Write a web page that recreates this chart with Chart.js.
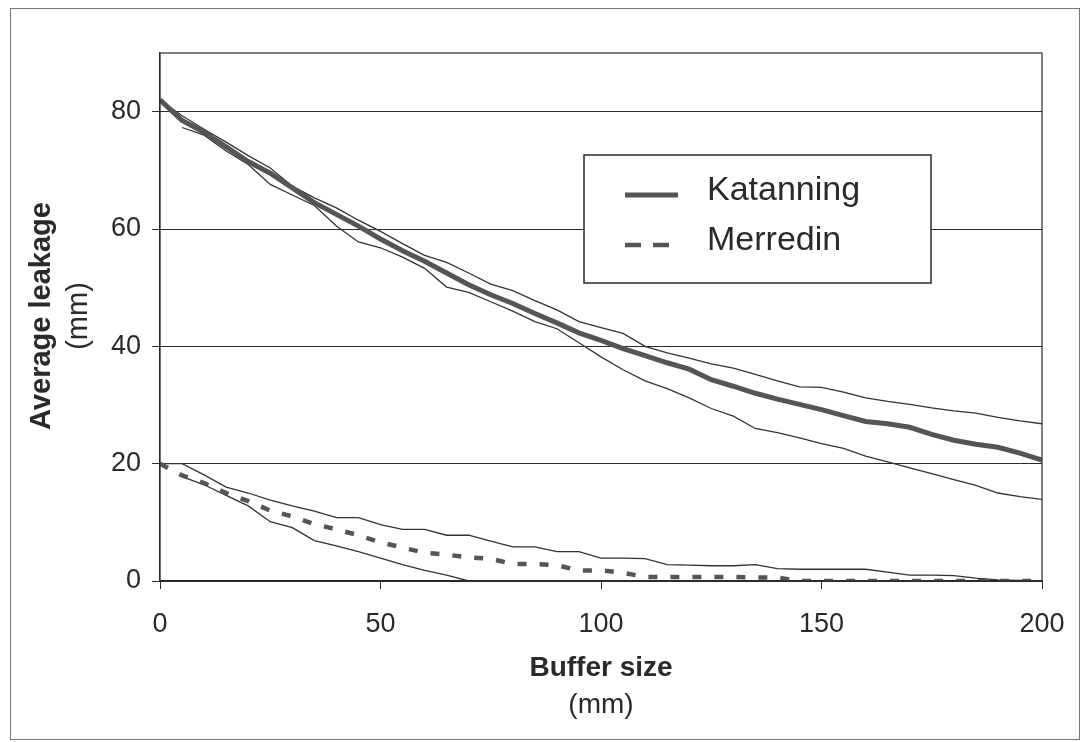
<!DOCTYPE html>
<html>
<head>
<meta charset="utf-8">
<script src="https://cdn.jsdelivr.net/npm/chart.js@4"></script>
<style>
  html, body { margin: 0; padding: 0; background: #fff; }
  #wrap { width: 1084px; height: 742px; }
</style>
</head>
<body>
<div id="wrap"><canvas id="leakage" width="1084" height="742"></canvas></div>
<script>
// buffer size (mm), read every 5 mm off the scan
const bufferSize = [0, 5, 10, 15, 20, 25, 30, 35, 40, 45, 50, 55, 60, 65, 70, 75, 80, 85, 90, 95, 100,
    105, 110, 115, 120, 125, 130, 135, 140, 145, 150, 155, 160, 165, 170, 175, 180, 185, 190, 195, 200];

// Katanning: mean and the two thin bound lines
const katanning = [82, 78.5, 76.5, 74, 71.5, 69.5, 67, 64.5, 62.5, 60.5, 58.3, 56.3, 54.5, 52.5, 50.5, 48.8, 47.3, 45.6, 44, 42.3, 41,
    39.6, 38.4, 37.2, 36.1, 34.3, 33.2, 32, 31, 30.1, 29.2, 28.2, 27.2, 26.8, 26.2, 25, 24, 23.3, 22.8, 21.8, 20.6];
const katanningHigh = [82, 79.3, 77, 74.8, 72.5, 70.4, 67.3, 65.3, 63.6, 61.5, 59.6, 57.5, 55.5, 54.3, 52.5, 50.6, 49.5, 47.8, 46.2, 44.2, 43.2,
    42.2, 40, 38.9, 38, 37, 36.3, 35.2, 34.1, 33.1, 33, 32.2, 31.2, 30.6, 30.1, 29.5, 29, 28.6, 27.9, 27.3, 26.8];
const katanningLow = [null, 77.3, 76, 73.3, 71, 67.6, 65.8, 64, 60.5, 57.8, 56.8, 55.2, 53.3, 50.1, 49.2, 47.6, 46, 44.2, 43, 40.6, 38.2,
    36, 34.1, 32.8, 31.2, 29.4, 28.1, 26, 25.3, 24.4, 23.4, 22.6, 21.3, 20.3, 19.3, 18.3, 17.3, 16.3, 15, 14.4, 13.9];

// Merredin
const merredin = [20, 18, 16.7, 15, 13.6, 12, 11, 9.7, 8.8, 7.8, 6.6, 5.7, 4.8, 4.5, 4, 3.8, 2.9, 2.9, 2.7, 1.8, 1.8,
    1.4, 0.7, 0.7, 0.7, 0.7, 0.7, 0.6, 0.6, 0, 0, 0, 0, 0, 0, 0, 0, 0, 0, 0, 0];
const merredinHigh = [20, 20, 18.1, 16, 15, 13.8, 12.8, 11.9, 10.8, 10.8, 9.6, 8.8, 8.8, 7.8, 7.8, 6.8, 5.8, 5.8, 5, 5, 3.9,
    3.9, 3.8, 2.8, 2.7, 2.6, 2.6, 2.8, 2.1, 2, 2, 2, 2, 1.5, 1, 1, 0.9, 0.5, 0.2, 0.1, 0];
const merredinLow = [null, 17.8, 16.4, 14.6, 12.8, 10.1, 9.1, 6.9, 6, 5, 3.9, 2.8, 1.8, 1, 0, 0, 0, 0, 0, 0, 0,
    0, 0, 0, 0, 0, 0, 0, 0, 0, 0, 0, 0, 0, 0, 0, 0, 0, 0, 0, 0];

const yTicks = [0, 20, 40, 60, 80];
const xTicks = [0, 50, 100, 150, 200];

const FONT = '"Liberation Sans", Arial, sans-serif';
const INK = '#2a2a2a';

const pts = arr => arr.map((v, i) => ({ x: bufferSize[i], y: v }));

// frame round the whole picture, box round the plot, axis titles, legend box
const decorations = {
    id: 'decorations',
    beforeDraw(chart) {
        const ctx = chart.ctx;
        ctx.save();
        ctx.fillStyle = '#fff';
        ctx.fillRect(0, 0, chart.width, chart.height);
        ctx.strokeStyle = '#777';
        ctx.lineWidth = 1;
        ctx.strokeRect(10.5, 8.5, 1069, 731);
        ctx.restore();
    },
    afterDraw(chart) {
        const ctx = chart.ctx;
        const a = chart.chartArea;
        ctx.save();
        ctx.strokeStyle = INK;
        ctx.lineWidth = 1.2;
        ctx.strokeRect(a.left, a.top, a.right - a.left, a.bottom - a.top);

        ctx.fillStyle = INK;
        ctx.textAlign = 'center';
        ctx.textBaseline = 'middle';
        const midX = (a.left + a.right) / 2;
        ctx.font = 'bold 28px ' + FONT;
        ctx.fillText('Buffer size', midX, 668);
        ctx.font = '28px ' + FONT;
        ctx.fillText('(mm)', midX, 705);

        ctx.save();
        ctx.translate(42, 316);
        ctx.rotate(-Math.PI / 2);
        ctx.font = 'bold 29px ' + FONT;
        ctx.fillText('Average leakage', 0, 0);
        ctx.restore();
        ctx.save();
        ctx.translate(79, 316);
        ctx.rotate(-Math.PI / 2);
        ctx.font = '29px ' + FONT;
        ctx.fillText('(mm)', 0, 0);
        ctx.restore();

        // legend
        ctx.fillStyle = '#fff';
        ctx.fillRect(584, 155, 347, 128);
        ctx.strokeStyle = INK;
        ctx.lineWidth = 1.5;
        ctx.strokeRect(584, 155, 347, 128);
        const shown = chart.data.datasets.filter(d => d.inLegend);
        shown.forEach((d, i) => {
            const y = 195 + i * 50;
            ctx.beginPath();
            ctx.strokeStyle = d.borderColor;
            ctx.lineWidth = d.borderWidth;
            ctx.setLineDash(d.borderDash ? [16, 12] : []);
            ctx.moveTo(625, y);
            ctx.lineTo(d.borderDash ? 669 : 678, y);
            ctx.stroke();
            ctx.setLineDash([]);
            ctx.fillStyle = INK;
            ctx.textAlign = 'left';
            ctx.font = '34px ' + FONT;
            ctx.fillText(d.label, 707, y - 4);
        });
        ctx.restore();
    }
};

new Chart(document.getElementById('leakage'), {
    type: 'line',
    data: {
        datasets: [
            { label: 'Katanning', inLegend: true, data: pts(katanning), borderColor: '#555', borderWidth: 5 },
            { label: 'Merredin', inLegend: true, data: pts(merredin), borderColor: '#555', borderWidth: 4.5, borderDash: [9, 13] },
            { label: 'Katanning upper', data: pts(katanningHigh), borderColor: '#333', borderWidth: 1.3 },
            { label: 'Katanning lower', data: pts(katanningLow), borderColor: '#333', borderWidth: 1.3 },
            { label: 'Merredin upper', data: pts(merredinHigh), borderColor: '#333', borderWidth: 1.3 },
            { label: 'Merredin lower', data: pts(merredinLow), borderColor: '#333', borderWidth: 1.3 }
        ]
    },
    options: {
        responsive: false,
        animation: false,
        events: [],
        layout: { padding: { left: 0, right: 42, top: 53, bottom: 0 } },
        elements: {
            point: { radius: 0 },
            line: { tension: 0, borderCapStyle: 'butt' }
        },
        plugins: {
            legend: { display: false },
            tooltip: { enabled: false }
        },
        scales: {
            x: {
                type: 'linear',
                min: 0,
                max: 200,
                afterFit: s => { s.height = 161; },
                afterBuildTicks: s => { s.ticks = xTicks.map(v => ({ value: v })); },
                ticks: { font: { family: FONT, size: 27 }, color: INK, padding: 19, maxRotation: 0 },
                grid: { drawOnChartArea: false, drawTicks: true, tickLength: 8, color: INK, lineWidth: 1 },
                border: { color: INK, width: 1.2 }
            },
            y: {
                min: 0,
                max: 90,
                afterFit: s => { s.width = 160; },
                afterBuildTicks: s => { s.ticks = yTicks.map(v => ({ value: v })); },
                ticks: { font: { family: FONT, size: 27 }, color: INK, padding: 11 },
                grid: { color: INK, lineWidth: 1, tickLength: 8 },
                border: { color: INK, width: 1.2 }
            }
        }
    },
    plugins: [decorations]
});
</script>
</body>
</html>
